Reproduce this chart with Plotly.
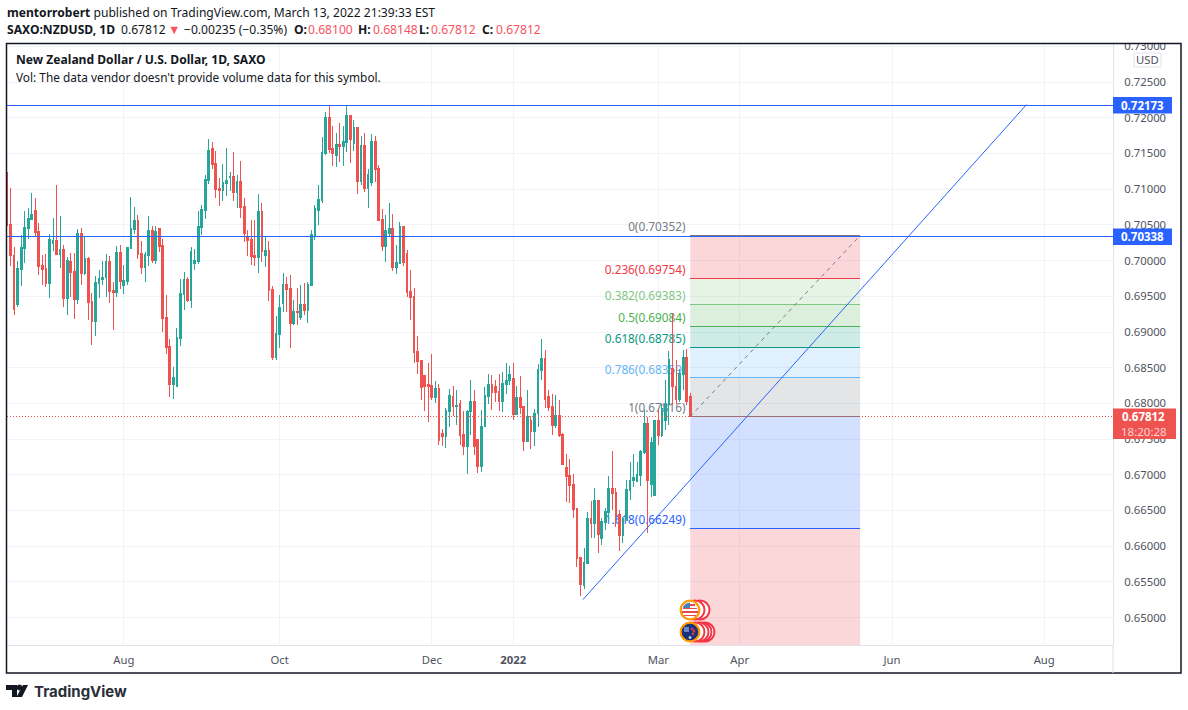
import plotly.graph_objects as go

opens = [.71217,.70508,.70075,.69390,.69879,.70173,.70453,.70578,.70704,.70411,.69935,.69893,.69684,.70243,.70285,.70089,.70159,.69474,.69991,.69851,.69460,.70383,.69823,.70033,.69432,.69152,.69684,.69739,.69767,.69991,.69586,.69558,.70117,.69656,.69712,.70173,.70439,.70564,.70103,.69907,.70075,.70425,.70005,.70453,.70215,.69208,.68803,.68258,.68230,.68915,.69530,.69740,.69446,.69963,.69991,.70466,.70704,.71124,.71571,.71361,.71012,.70984,.71082,.71166,.71180,.70956,.71110,.70760,.70341,.70299,.70075,.70047,.70690,.70075,.70145,.69600,.68649,.68971,.69404,.69670,.69614,.69124,.69292,.69208,.69390,.69306,.69656,.70355,.70704,.70844,.71501,.72004,.71571,.71473,.71627,.71599,.71655,.72032,.71641,.71865,.71110,.71613,.71012,.71096,.71669,.71291,.70578,.70201,.70383,.70453,.69907,.69963,.70480,.70103,.69572,.69502,.68733,.68607,.68384,.68258,.68244,.68076,.68202,.67573,.67531,.67880,.68099,.67960,.68001,.67568,.67400,.67880,.68029,.67498,.67121,.67671,.68099,.68267,.68239,.68160,.68029,.68267,.68323,.68351,.67848,.68085,.67960,.67470,.67764,.67610,.67857,.68463,.68631,.68099,.67960,.67694,.67834,.67568,.67107,.66995,.66869,.66534,.65835,.65443,.65751,.66394,.66324,.66645,.66114,.66338,.66478,.66813,.66757,.66450,.66156,.66366,.66785,.66925,.66911,.66995,.67316,.67722,.66869,.66715,.67764,.67554,.67764,.67987,.68491,.68239,.68057,.68407,.68645,.68100]
highs = [.71235,.71021,.70187,.69991,.70364,.70690,.70732,.70951,.70872,.70522,.70075,.70098,.70369,.70592,.71054,.70620,.70215,.70047,.70103,.70103,.70439,.70453,.70327,.70047,.69544,.69781,.69865,.69991,.70098,.70061,.69698,.70201,.70215,.69935,.70187,.70886,.70746,.70634,.70271,.70117,.70620,.70480,.70480,.70453,.70299,.69516,.68901,.68509,.69055,.69740,.69837,.69767,.70187,.70159,.70690,.70774,.71194,.71697,.71655,.71529,.71152,.71347,.71571,.71235,.71515,.71194,.71389,.70872,.70425,.70564,.70564,.70928,.70802,.70341,.70271,.69642,.69222,.69516,.69823,.69767,.69796,.69446,.69614,.69656,.69684,.69698,.70425,.70774,.71054,.71725,.72088,.72186,.71892,.71781,.71934,.71892,.72172,.72046,.71976,.71878,.71739,.71781,.71277,.71767,.71739,.71333,.70718,.70634,.70802,.70648,.70215,.70536,.70480,.70145,.69865,.69614,.68943,.68607,.68398,.68565,.68691,.68314,.68272,.67642,.67936,.68202,.68239,.68193,.68043,.67890,.67904,.68332,.68183,.67498,.67904,.68230,.68416,.68393,.68323,.68416,.68440,.68570,.68519,.68570,.68239,.68379,.67960,.68183,.67820,.67927,.68556,.68905,.68742,.68183,.68137,.68113,.68053,.67591,.67288,.67228,.67018,.66534,.65835,.65970,.66478,.66631,.66822,.66645,.66389,.66529,.66986,.67330,.66813,.66506,.66412,.66925,.67181,.67298,.67181,.67344,.67904,.67810,.67531,.67764,.67904,.67987,.68323,.68733,.69260,.68612,.68486,.68742,.68756,.68148]
lows = [.70490,.69926,.69236,.69348,.69642,.69963,.70299,.70564,.70327,.69796,.69656,.69628,.69474,.70131,.70080,.69893,.69348,.69236,.69488,.69180,.69390,.69656,.69796,.69166,.68817,.68943,.69474,.69656,.69488,.69404,.69027,.69488,.69600,.69530,.69656,.70159,.70369,.70019,.69809,.69698,.69921,.69963,.69949,.70117,.68999,.68691,.68090,.68062,.68230,.68803,.69306,.69418,.69334,.69865,.69949,.70355,.70578,.71068,.71277,.70872,.70760,.70830,.70900,.70970,.70830,.70732,.70592,.70257,.70061,.69935,.69921,.69823,.69977,.69907,.69432,.68607,.68607,.68775,.69278,.69278,.68775,.69097,.69097,.69166,.69236,.69124,.69642,.70285,.70495,.70802,.71473,.71501,.71319,.71305,.71375,.71319,.71515,.71361,.71529,.70928,.71054,.70956,.70732,.71040,.71096,.70564,.70131,.69977,.70341,.69851,.69809,.69949,.69921,.69488,.69166,.68565,.68412,.68048,.67894,.67740,.68048,.68006,.67419,.67405,.67377,.67670,.67820,.67694,.67414,.67274,.67018,.67554,.67274,.67028,.67042,.67671,.67987,.67904,.68020,.67890,.67880,.68137,.68253,.67764,.67834,.67848,.67330,.67461,.67368,.67400,.67671,.68323,.67936,.67890,.67554,.67661,.67531,.67149,.66622,.66599,.66389,.65713,.65303,.65401,.65751,.66110,.66110,.65900,.66016,.66226,.66366,.66506,.66273,.65932,.66040,.66366,.66645,.66832,.66902,.66841,.67298,.66179,.66692,.66715,.67414,.67531,.67624,.67694,.67974,.67997,.68020,.68183,.67974,.67812]
closes = [.70499,.70066,.69320,.69893,.70187,.70466,.70592,.70648,.70397,.69921,.69879,.69684,.70299,.70285,.70089,.70159,.69474,.70005,.69837,.69460,.70383,.69823,.70033,.69418,.69152,.69698,.69754,.69767,.69991,.69572,.69558,.70117,.69712,.69726,.70187,.70453,.70564,.70089,.69907,.70089,.70425,.70005,.70411,.70201,.69194,.68789,.68258,.68356,.68929,.69544,.69740,.69446,.70131,.70005,.70480,.70718,.71138,.71543,.71347,.70998,.70984,.71096,.71124,.71180,.70956,.71110,.70746,.70383,.70285,.70061,.70047,.70690,.70131,.70145,.69586,.68649,.68985,.69348,.69670,.69600,.69124,.69292,.69278,.69390,.69306,.69670,.70369,.70732,.70858,.71515,.72004,.71557,.71501,.71627,.71599,.71669,.72032,.71697,.71865,.71110,.71613,.71012,.71207,.71669,.71277,.70564,.70201,.70425,.70453,.69907,.69977,.70480,.69977,.69558,.69488,.68719,.68593,.68216,.68230,.68230,.68076,.68202,.67475,.67531,.67894,.68104,.67960,.67974,.67554,.67400,.67890,.68029,.67391,.67121,.67680,.68113,.68267,.68146,.68155,.68029,.68281,.68323,.68407,.67848,.68085,.67946,.67470,.67820,.67610,.67862,.68477,.68631,.68057,.67946,.67694,.67834,.67554,.67149,.66981,.66855,.66520,.65821,.65457,.65765,.66394,.66324,.66645,.66170,.66352,.66492,.66813,.66743,.66422,.66156,.66394,.66799,.66925,.66967,.67009,.67330,.67722,.66925,.67456,.67764,.67554,.67932,.67987,.68617,.68230,.68057,.68421,.68645,.68029,.67812]
bars = list(range(len(opens)))

month_bars = [33, 77, 120, 143, 184, 207, 250, 293]
month_labels = ["Aug", "Oct", "Dec", "<b>2022</b>", "Mar", "Apr", "Jun", "Aug"]
price_ticks = [.65, .655, .66, .665, .67, .675, .68, .685, .69, .695, .70, .705, .71, .715, .72, .725, .73]
price_tick_labels = ["%.5f" % p for p in price_ticks]

support_levels = [0.72173, 0.70338]
last_price = 0.67812

fib_start, fib_end = 193, 241
fib_ratios = ["0", "0.236", "0.382", "0.5", "0.618", "0.786", "1", "1.618", "2.618"]
fib_prices = [.70352, .69754, .69383, .69084, .68785, .68359, .67816, .66249, .63713]
fib_lines = ["#787b86", "#f23645", "#81c784", "#4caf50", "#089981", "#64b5f6", "#787b86", "#2962ff", "#f23645"]
fib_fills = ["rgba(242,54,69,.2)", "rgba(129,199,132,.2)", "rgba(76,175,80,.2)", "rgba(8,153,129,.2)",
             "rgba(100,181,246,.2)", "rgba(120,123,134,.2)", "rgba(41,98,255,.2)", "rgba(242,54,69,.2)"]

trend_bars = [162.7, 288]
trend_prices = [.65252, .72185]

L, R, T, B = 7, 1113, 44, 645
xp = lambda px: (px - L) / (R - L)
yp = lambda py: (B - py) / (B - T)

shapes, annos = [], []

def box(x0, y0, x1, y1, fill=None, line=None, lw=1, layer="above"):
    shapes.append(dict(type="rect", xref="paper", yref="paper", x0=xp(x0), x1=xp(x1), y0=yp(y0), y1=yp(y1),
                       fillcolor=fill or "rgba(0,0,0,0)", line=dict(color=line or "rgba(0,0,0,0)", width=lw if line else 0), layer=layer))

def seg(x0, y0, x1, y1, color, w=1):
    shapes.append(dict(type="line", xref="paper", yref="paper", x0=xp(x0), x1=xp(x1), y0=yp(y0), y1=yp(y1),
                       line=dict(color=color, width=w), layer="above"))

def circ(cx, cy, r, fill, line=None, lw=1):
    shapes.append(dict(type="circle", xref="paper", yref="paper", x0=xp(cx-r), x1=xp(cx+r), y0=yp(cy+r), y1=yp(cy-r),
                       fillcolor=fill, line=dict(color=line or fill, width=lw), layer="above"))

def poly(pts, fill):
    d = "M" + " L".join("%.5f,%.5f" % (xp(x), yp(y)) for x, y in pts) + " Z"
    shapes.append(dict(type="path", xref="paper", yref="paper", path=d, fillcolor=fill, line=dict(width=0), layer="above"))

def text(px, py, s, size=12, color="#131722", xanchor="left", font="Noto Sans"):
    annos.append(dict(xref="paper", yref="paper", x=xp(px), y=yp(py), text=s, showarrow=False, xanchor=xanchor,
                      yanchor="middle", align="left", font=dict(family=font, size=size, color=color), borderpad=0))

# fib bands and level lines
for i, fill in enumerate(fib_fills):
    shapes.append(dict(type="rect", x0=fib_start, x1=fib_end, y0=fib_prices[i+1], y1=fib_prices[i],
                       fillcolor=fill, line=dict(width=0), layer="between"))
for i, (r, p, c) in enumerate(zip(fib_ratios, fib_prices, fib_lines)):
    shapes.append(dict(type="line", x0=fib_start, x1=fib_end, y0=p, y1=p, line=dict(color=c, width=1), layer="between"))
    if r != "2.618":
        shapes.append(dict(type="line", x0=165, x1=191.7, y0=p, y1=p, line=dict(color="rgba(0,0,0,0)", width=0), layer="between",
                           label=dict(text="%s(%.5f)" % (r, p), textposition="end", xanchor="right", yanchor="bottom", padding=0,
                                      font=dict(family="Noto Sans", size=11.8, color=c))))

# frame, price axis furniture
box(0, 30, 1188, 43, fill="white")
box(6.5, 43.5, 1181, 673, line="#131722", lw=1.5)
seg(1113, 645, 1113, 673, "#e0e3eb", 1)

# USD tag
shapes.append(dict(type="rect", xref="paper", yref="paper", x0=xp(1134), x1=xp(1161), y0=yp(67), y1=yp(53),
                   fillcolor="white", line=dict(color="#e0e3eb", width=1), layer="above"))
text(1147.5, 60, "USD", 11.3, "#50535e", "center")

# price tags
box(1113, 97, 1172, 113.5, fill="#2962ff")
text(1142.5, 105.5, "<b>0.72173</b>", 11.5, "white", "center")
box(1113, 228.5, 1172, 245, fill="#2962ff")
text(1142.5, 236.5, "<b>0.70338</b>", 11.5, "white", "center")
box(1113, 408.5, 1176, 439, fill="#ef5350")
text(1143, 416.5, "<b>0.67812</b>", 11.5, "white", "center")
text(1144, 431, "18:20:28", 11.5, "#fbd5d4", "center")

# event badges
for cx in (700, 695):
    circ(cx, 610, 9.5, "white", "#f23645", 2)
for cx in (705, 702, 699, 695):
    circ(cx, 632, 9.5, "white", "#f23645", 2)
circ(690, 610, 10, "#ff9800")
circ(690, 610, 7.8, "white")
for dy, half in ((-6, 4.5), (-2.5, 7.3), (1, 7.6), (4.5, 6.3)):
    seg(690-half, 610+dy+1, 690+half, 610+dy+1, "#e54b52", 1.7)
poly([(683, 608), (690, 608), (690, 602.5), (686, 603.5), (683.5, 606)], "#4a7fb8")
circ(690, 632, 10, "#ff9800")
circ(690, 632, 7.8, "#17327a")
poly([(684, 636), (696, 636), (694, 638.5), (690, 639.8), (686, 638.5)], "#17327a")
for dx, dy in ((2, -3), (4, -1), (3, 2), (-3, -3)):
    circ(690+dx, 632+dy, 1.0, "#e53946")
poly([(684, 627), (689, 627), (689, 632), (684, 632)], "#6d86c4")
circ(690, 637.5, 1.0, "#c9d6ee")

# header
red = "#f7525f"
text(6, 12, "<b>mentorrobert</b> published on TradingView.com, March 13, 2022 21:39:33 EST", 12.1)
hdr_text = ["<b>SAXO:NZDUSD, 1D</b>", "0.67812", "−0.00235 (−0.35%)", "<b>O:</b>", "<b>H:</b>", "<b>L:</b>", "<b>C:</b>"]
hdr_x = [6, 120, 183, 293, 357, 418, 481]
for s, hx in zip(hdr_text, hdr_x):
    text(hx, 29, s, 12.1)
text(167, 29, "▼", 12.5, red)
for s, hx in zip(["0.68100", "0.68148", "0.67812", "0.67812"], [306.5, 371.5, 430, 495]):
    text(hx, 29, s, 12.1, red)
text(15, 60, "<b>New Zealand Dollar / U.S. Dollar, 1D, SAXO</b>", 12.1)
text(15, 77, "Vol: The data vendor doesn't provide volume data for this symbol.", 11.85)

# logo
poly([(6, 685), (17, 685), (17, 697), (12, 697), (12, 690), (6, 690)], "#131722")
circ(19.5, 687.5, 2.5, "#131722")
poly([(23, 685), (28, 685), (22, 697), (16.5, 697)], "#131722")
text(33, 691, "<b>TradingView</b>", 15, "#2a2e39", font="Inter")

fig = go.Figure()
fig.add_trace(go.Scatter(x=[bars[0], fib_end + 80], y=[last_price, last_price], mode="lines",
                         line=dict(color="#ef5350", width=1, dash="1px,2px"), hoverinfo="skip", showlegend=False))
for lvl in support_levels:
    fig.add_trace(go.Scatter(x=[bars[0], fib_end + 80], y=[lvl, lvl], mode="lines",
                             line=dict(color="#2962ff", width=1), hoverinfo="skip", showlegend=False))
fig.add_trace(go.Candlestick(x=bars, open=opens, high=highs, low=lows, close=closes, whiskerwidth=0,
                             increasing=dict(line=dict(color="#26a69a", width=1), fillcolor="#26a69a"),
                             decreasing=dict(line=dict(color="#ef5350", width=1), fillcolor="#ef5350"),
                             showlegend=False))
fig.add_trace(go.Scatter(x=[fib_start, fib_end], y=[fib_prices[6], fib_prices[0]], mode="lines",
                         line=dict(color="#787b86", width=1, dash="4px,4px"), hoverinfo="skip", showlegend=False))
fig.add_trace(go.Scatter(x=trend_bars, y=trend_prices, mode="lines",
                         line=dict(color="#2962ff", width=1), hoverinfo="skip", showlegend=False))

fig.update_layout(
    width=1188, height=710, margin=dict(l=L, r=1188-R, t=T, b=710-B, autoexpand=False),
    paper_bgcolor="white", plot_bgcolor="white", shapes=shapes, annotations=annos, showlegend=False, boxgap=0.3,
    xaxis=dict(range=[0, (R-L)/3.54], rangeslider=dict(visible=False), tickmode="array", tickvals=month_bars,
               ticktext=month_labels, showgrid=True, gridcolor="#f0f3fa", gridwidth=1, zeroline=False,
               showline=True, linecolor="#e0e3eb", linewidth=1, ticks="outside", ticklen=4, tickcolor="rgba(0,0,0,0)",
               tickfont=dict(family="Noto Sans", size=11.3, color="#50535e")),
    yaxis=dict(range=[0.64616, 0.73034], side="right", tickmode="array", tickvals=price_ticks, ticktext=price_tick_labels,
               showgrid=True, gridcolor="#f0f3fa", gridwidth=1, zeroline=False, showline=True, linecolor="#e0e3eb", linewidth=1,
               ticks="outside", ticklen=8, tickcolor="rgba(0,0,0,0)", tickfont=dict(family="Noto Sans", size=11.3, color="#50535e")),
)
crisp = """
document.body.style.margin='0';
document.querySelectorAll('.boxlayer path, .shapelayer path, .scatterlayer .js-line').forEach(function(p){
  var b = p.getBBox();
  if (p.closest('.boxlayer') || b.height < 0.5) { p.style.shapeRendering = 'crispEdges'; }
});
"""
fig.write_html("out.html", config=dict(displayModeBar=False), post_script=crisp)
